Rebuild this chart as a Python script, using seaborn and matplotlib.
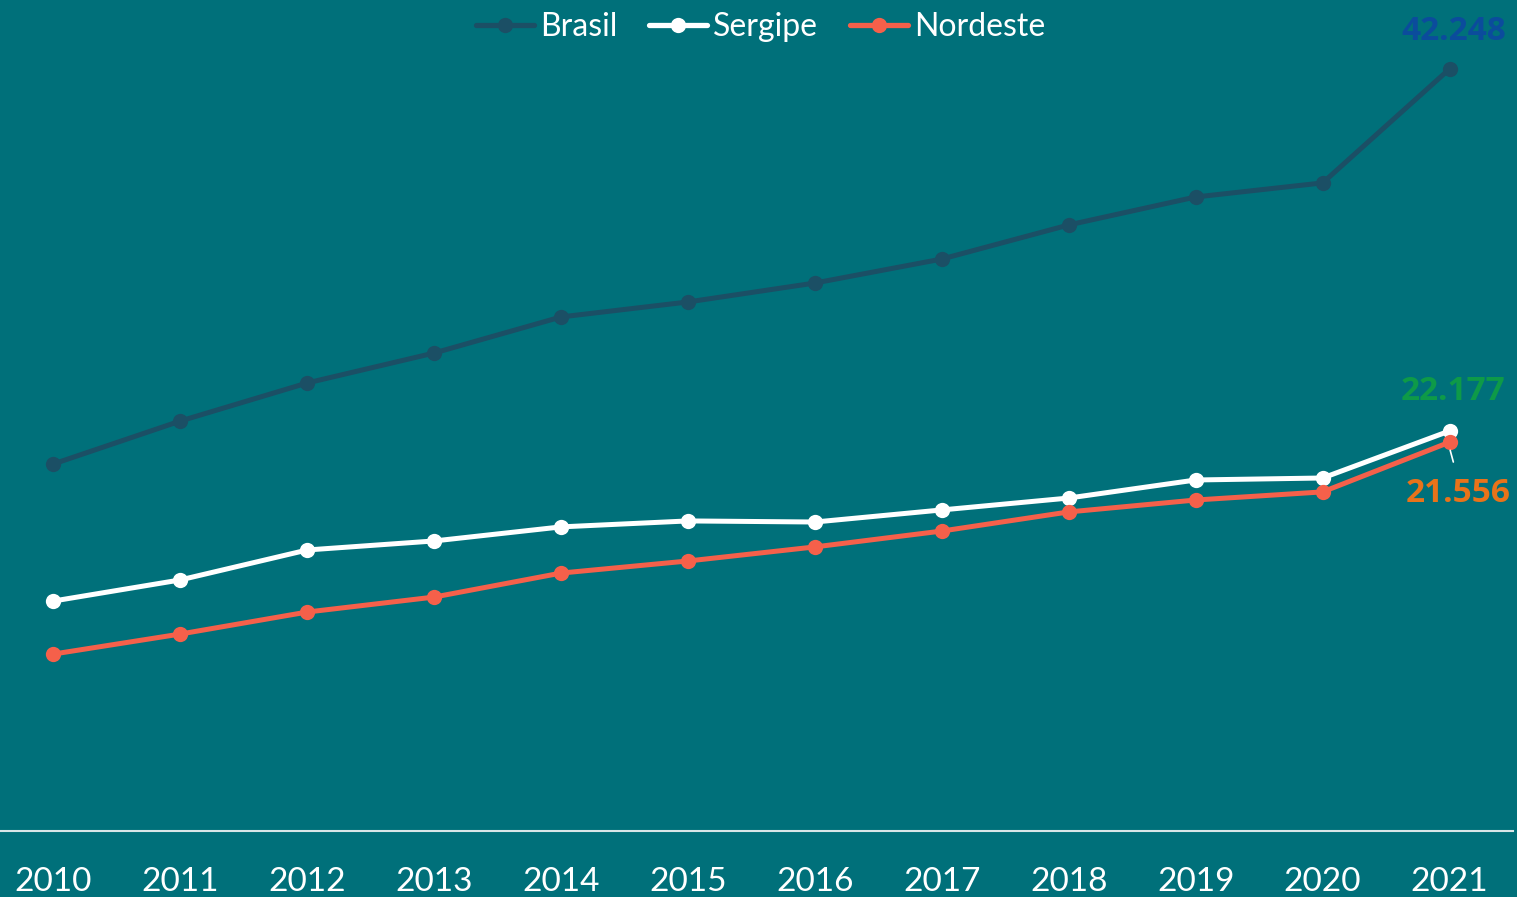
import matplotlib
matplotlib.use("Agg")
import matplotlib.pyplot as plt
import seaborn as sns
import pandas as pd
from matplotlib.lines import Line2D

years = ["2010", "2011", "2012", "2013", "2014", "2015", "2016", "2017", "2018", "2019", "2020", "2021"]
brasil = [20.35, 22.73, 24.84, 26.50, 28.50, 29.33, 30.38, 31.71, 33.60, 35.15, 35.93, 42.248]
sergipe = [12.75, 13.92, 15.58, 16.08, 16.86, 17.19, 17.13, 17.80, 18.46, 19.46, 19.57, 22.177]
nordeste = [9.81, 10.92, 12.14, 12.97, 14.30, 14.97, 15.75, 16.63, 17.69, 18.35, 18.80, 21.556]
series_names = ["Brasil", "Sergipe", "Nordeste"]

BG = "#00707A"
colors = {"Brasil": "#1B4F65", "Sergipe": "#FFFFFF", "Nordeste": "#F5604A"}

sns.set_theme(style="white")
plt.rcParams["font.family"] = ["Lato", "DejaVu Sans"]

rows = []
for name, vals in zip(series_names, [brasil, sergipe, nordeste]):
    for i, v in enumerate(vals):
        rows.append({"idx": i, "value": v, "serie": name})
df = pd.DataFrame(rows)

fig = plt.figure(figsize=(15.17, 8.97), dpi=100, facecolor=BG)
ax = fig.add_axes([-10 / 1517, 66 / 897, 1523 / 1517, 831 / 897])
ax.set_facecolor(BG)

sns.lineplot(data=df, x="idx", y="value", hue="serie", hue_order=series_names,
             palette=colors, marker="o", markersize=11, markeredgewidth=0,
             linewidth=3.6, ax=ax, legend=False)

ax.set_xlim(-0.5, 11.5)
ax.set_ylim(0, 46.07)
ax.set_xticks(range(len(years)))
ax.set_xticklabels(years)
ax.set_yticks([])
ax.set_xlabel("")
ax.set_ylabel("")
ax.tick_params(axis="x", length=0, pad=26, labelsize=24, colors="white")
for s in ["top", "right", "left"]:
    ax.spines[s].set_visible(False)
ax.spines["bottom"].set_color("#D8E6E8")
ax.spines["bottom"].set_linewidth(1.5)

# data labels
lab_font = ["Open Sans", "DejaVu Sans"]
ax.text(11.03, 42.248 + 2.05, "42.248", color="#0B4C9C", fontsize=24, fontweight="bold",
        family=lab_font, ha="center", va="center")
ax.text(11.03, 22.177 + 2.2, "22.177", color="#0E9A48", fontsize=24, fontweight="bold",
        family=lab_font, ha="center", va="center")
ax.text(11.07, 21.556 - 2.85, "21.556", color="#E8731A", fontsize=24, fontweight="bold",
        family=lab_font, ha="center", va="center")
ax.plot([11.005, 11.03], [21.556 - 0.45, 21.556 - 1.1], color="white", lw=1.2)

handles = [Line2D([], [], color=colors[n], lw=3.8, marker="o", markersize=11,
                  markeredgewidth=0) for n in series_names]
leg = ax.legend(handles, series_names, loc="upper center", bbox_to_anchor=(0.506, 1.02),
                ncol=3, frameon=False, fontsize=23, handlelength=1.8, handletextpad=0.2,
                columnspacing=1.0)
for t in leg.get_texts():
    t.set_color("white")

fig.savefig("out.png", dpi=100, facecolor=BG)
